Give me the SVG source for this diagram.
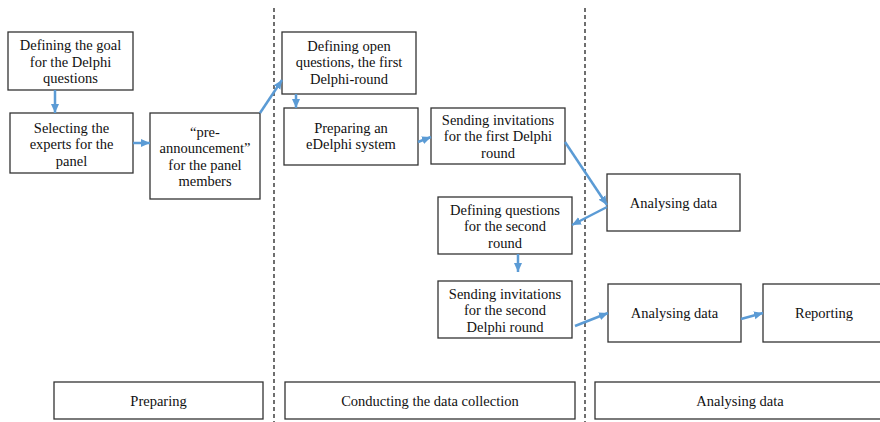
<svg xmlns="http://www.w3.org/2000/svg" width="880" height="422" viewBox="0 0 880 422">
<style>
.box{fill:#fff;stroke:#333;stroke-width:1.3}
.t{font-family:"Liberation Serif","Times New Roman",serif;font-size:14.5px;fill:#111;text-anchor:middle}
.c{stroke:#5B9BD5;stroke-width:2.5;fill:none;marker-end:url(#ah)}
.d{stroke:#222;stroke-width:1.3;stroke-dasharray:4 3}
</style>
<defs>
<marker id="ah" markerUnits="userSpaceOnUse" markerWidth="10" markerHeight="10" viewBox="0 0 10 10" refX="9" refY="5" orient="auto">
<path d="M0,1 L9,5 L0,9 Z" fill="#5B9BD5"/>
</marker>
</defs>
<rect width="880" height="422" fill="#fff"/>
<g id="separators">
<line class="d" x1="274" y1="8" x2="274" y2="422"/>
<line class="d" x1="585" y1="8" x2="585" y2="422"/>
</g>
<g id="n1"><rect class="box" x="8" y="32" width="125" height="58"/>
<text class="t" x="70.5"><tspan x="70.5" y="50">Defining the goal</tspan><tspan x="70.5" y="66.5">for the Delphi</tspan><tspan x="70.5" y="83">questions</tspan></text></g>
<g id="n2"><rect class="box" x="10" y="113" width="123" height="60"/>
<text class="t"><tspan x="71.5" y="132.5">Selecting the</tspan><tspan x="71.5" y="149">experts for the</tspan><tspan x="71.5" y="165.5">panel</tspan></text></g>
<g id="n3"><rect class="box" x="150" y="113" width="110" height="86"/>
<text class="t"><tspan x="205" y="136.5">“pre-</tspan><tspan x="205" y="153">announcement”</tspan><tspan x="205" y="169.5">for the panel</tspan><tspan x="205" y="186">members</tspan></text></g>
<g id="n4"><rect class="box" x="282" y="32" width="134" height="62"/>
<text class="t"><tspan x="349" y="50.5">Defining open</tspan><tspan x="349" y="67">questions, the first</tspan><tspan x="349" y="83.5">Delphi-round</tspan></text></g>
<g id="n5"><rect class="box" x="284" y="108" width="134" height="57"/>
<text class="t"><tspan x="351" y="132.5">Preparing an</tspan><tspan x="351" y="149">eDelphi system</tspan></text></g>
<g id="n6"><rect class="box" x="431" y="108" width="134" height="56"/>
<text class="t"><tspan x="498" y="124.5">Sending invitations</tspan><tspan x="498" y="141">for the first Delphi</tspan><tspan x="498" y="157.5">round</tspan></text></g>
<g id="n7"><rect class="box" x="438" y="197" width="134" height="57"/>
<text class="t"><tspan x="505" y="214.5">Defining questions</tspan><tspan x="505" y="231">for the second</tspan><tspan x="505" y="247.5">round</tspan></text></g>
<g id="n8"><rect class="box" x="438" y="281" width="134" height="57"/>
<text class="t"><tspan x="505" y="298.5">Sending invitations</tspan><tspan x="505" y="315">for the second</tspan><tspan x="505" y="331.5">Delphi round</tspan></text></g>
<g id="n9"><rect class="box" x="607" y="174" width="133" height="57"/>
<text class="t" x="673.5" y="207.5">Analysing data</text></g>
<g id="n10"><rect class="box" x="608" y="284" width="133" height="58"/>
<text class="t" x="674.5" y="318">Analysing data</text></g>
<g id="n11"><rect class="box" x="763" y="284" width="122" height="58"/>
<text class="t" x="824" y="318">Reporting</text></g>
<g id="p1"><rect class="box" x="54" y="382" width="209" height="37"/>
<text class="t" x="158.5" y="405.5">Preparing</text></g>
<g id="p2"><rect class="box" x="285" y="382" width="290" height="37"/>
<text class="t" x="430" y="405.5">Conducting the data collection</text></g>
<g id="p3"><rect class="box" x="595" y="382" width="290" height="37"/>
<text class="t" x="740" y="405.5">Analysing data</text></g>
<g id="connectors">
<line class="c" x1="55" y1="90" x2="55" y2="113"/>
<line class="c" x1="133" y1="143" x2="150" y2="143"/>
<line class="c" x1="260" y1="113" x2="282" y2="80"/>
<line class="c" x1="296" y1="94" x2="296" y2="108"/>
<line class="c" x1="418" y1="142" x2="431" y2="137"/>
<line class="c" x1="565" y1="142" x2="607" y2="205"/>
<line class="c" x1="607" y1="207" x2="572" y2="225"/>
<line class="c" x1="518" y1="254" x2="518" y2="272"/>
<line class="c" x1="575" y1="326" x2="608" y2="313"/>
<line class="c" x1="741" y1="319" x2="763" y2="313"/>
</g>
</svg>
